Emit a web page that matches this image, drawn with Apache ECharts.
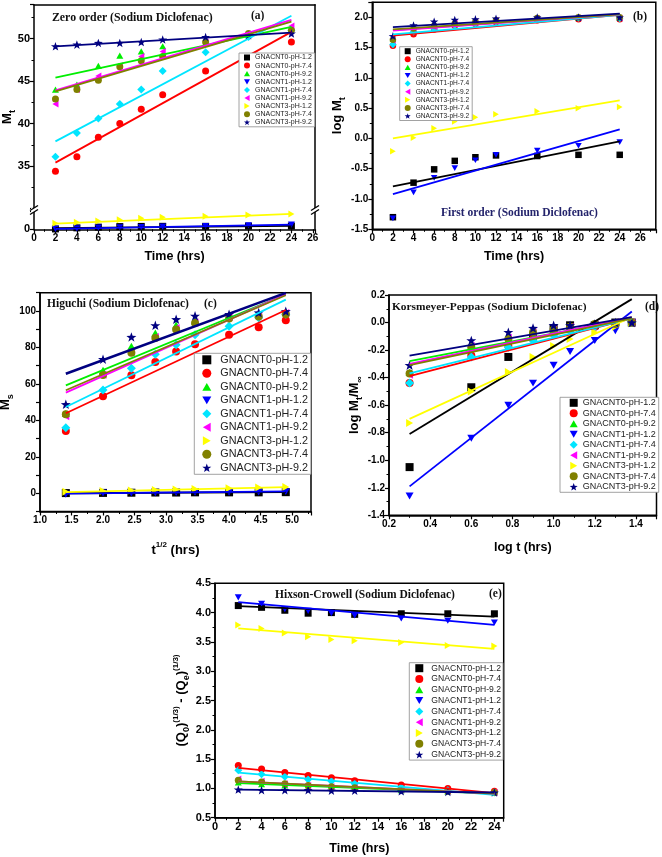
<!DOCTYPE html>
<html><head><meta charset="utf-8">
<script src="https://cdn.jsdelivr.net/npm/echarts@6/dist/echarts.min.js"></script>
<style>html,body{margin:0;padding:0;background:#fff}#c{width:662px;height:857px}</style>
</head><body><div id="c"></div><script>
// ---------------- DATA ----------------
const seriesNames = ['GNACNT0-pH-1.2','GNACNT0-pH-7.4','GNACNT0-pH-9.2','GNACNT1-pH-1.2','GNACNT1-pH-7.4','GNACNT1-pH-9.2','GNACNT3-pH-1.2','GNACNT3-pH-7.4','GNACNT3-pH-9.2'];
const timeHrs = [2,4,6,8,10,12,16,20,24];
const sqrtTime = [1.41,2.00,2.45,2.83,3.16,3.46,4.00,4.47,4.90];
const logTime = [0.30,0.60,0.78,0.90,1.00,1.08,1.20,1.30,1.38];

// (a) Zero order, rows follow seriesNames
const zeroOrder = [
  [0.04,0.16,0.24,0.30,0.32,0.33,0.33,0.35,0.36],
  [34.4,36.1,38.4,40.0,41.7,43.4,46.2,50.3,49.6],
  [44.0,44.6,46.8,48.0,48.5,49.1,49.5,50.5,51.3],
  [0.05,0.10,0.19,0.22,0.26,0.30,0.37,0.44,0.52],
  [36.1,38.9,40.6,42.3,44.0,46.2,48.4,50.2,51.0],
  [42.3,44.0,45.6,46.8,47.9,48.5,49.6,50.5,51.5],
  [0.67,0.78,0.93,1.07,1.22,1.33,1.44,1.60,1.70],
  [42.9,44.0,45.1,46.7,47.4,47.9,49.6,50.6,51.0],
  [49.1,49.3,49.5,49.5,49.6,49.9,50.2,50.4,50.6]
];
const zeroOrderFitX = [2,24];
const zeroOrderFit = [[0.12,0.38],[35.4,50.8],[45.4,51.4],[0.04,0.52],[37.9,52.7],[43.9,52.2],[0.63,1.72],[43.8,52.0],[49.1,50.7]];

// (b) First order
const firstOrder = [
  [-1.30,-0.73,-0.51,-0.37,-0.31,-0.28,-0.29,-0.27,-0.27],
  [1.53,1.72,1.80,1.86,1.89,1.92,1.95,1.97,1.97],
  [1.64,1.80,1.85,1.92,1.94,1.96,1.98,1.99,1.99],
  [-1.32,-0.89,-0.65,-0.49,-0.36,-0.27,-0.20,-0.12,-0.06],
  [1.55,1.76,1.81,1.87,1.90,1.93,1.97,1.99,1.98],
  [1.62,1.79,1.84,1.91,1.93,1.95,1.98,1.99,1.99],
  [-0.21,0.01,0.17,0.28,0.35,0.40,0.45,0.50,0.52],
  [1.63,1.81,1.86,1.90,1.93,1.95,1.99,2.00,2.00],
  [1.69,1.87,1.93,1.96,1.97,1.98,2.00,2.00,2.00]
];
const firstOrderFitX = [2,24];
const firstOrderFit = [[-0.79,-0.05],[1.70,2.04],[1.79,2.05],[-0.92,0.15],[1.72,2.04],[1.78,2.05],[0.00,0.63],[1.80,2.05],[1.84,2.06]];

// (c) Higuchi
const higuchi = [
  [0.1,0.2,0.3,0.4,0.4,0.5,0.5,0.5,0.6],
  [34.2,53.2,64.7,72.0,77.7,81.7,87.0,91.0,94.9],
  [43.7,67.5,80.6,87.9,92.3,94.5,97.1,98.2,99.3],
  [-0.5,0.1,0.2,0.3,0.4,0.5,0.6,0.7,0.9],
  [36.0,56.7,68.6,76.2,81.4,87.0,91.6,96.2,98.2],
  [42.2,65.0,77.5,85.7,90.7,93.6,96.7,98.0,98.9],
  [0.8,1.2,1.5,1.8,2.1,2.4,2.7,3.1,3.4],
  [43.3,64.9,77.1,85.2,89.8,93.4,95.8,96.9,98.2],
  [48.8,73.5,85.7,92.1,95.4,97.3,98.2,99.1,99.8]
];
const higuchiFitX = [1.41,4.90];
const higuchiFit = [[0.0,0.7],[43.9,100.5],[59.2,109.0],[-0.2,1.0],[47.3,106.2],[55.2,109.1],[0.6,3.4],[56.5,108.6],[65.6,109.9]];

// (d) Korsmeyer-Peppas
const korsmeyer = [
  [-1.05,-0.47,-0.25,-0.10,-0.04,-0.02,-0.02,0.00,0.00],
  [-0.44,-0.24,-0.17,-0.12,-0.08,-0.05,-0.03,-0.01,0.00],
  [-0.36,-0.17,-0.10,-0.06,-0.05,-0.03,-0.01,0.00,0.00],
  [-1.26,-0.84,-0.60,-0.44,-0.31,-0.21,-0.13,-0.06,0.00],
  [-0.44,-0.25,-0.18,-0.13,-0.09,-0.06,-0.03,-0.01,0.00],
  [-0.38,-0.17,-0.11,-0.07,-0.05,-0.03,-0.01,0.00,0.00],
  [-0.73,-0.50,-0.36,-0.25,-0.17,-0.12,-0.07,-0.03,0.00],
  [-0.37,-0.18,-0.12,-0.07,-0.05,-0.03,-0.01,-0.01,0.00],
  [-0.31,-0.13,-0.07,-0.04,-0.02,-0.02,-0.01,0.00,0.00]
];
const korsmeyerFitX = [0.30,1.38];
const korsmeyerFit = [[-0.81,0.17],[-0.39,0.03],[-0.28,0.03],[-1.19,0.08],[-0.37,0.03],[-0.30,0.04],[-0.70,0.04],[-0.31,0.03],[-0.24,0.04]];

// (e) Hixson-Crowell
const hixson = [
  [4.12,4.09,4.04,3.99,4.00,3.97,3.98,3.98,3.98],
  [1.39,1.33,1.27,1.22,1.18,1.13,1.06,1.00,0.95],
  [1.10,1.07,1.05,1.02,1.01,1.00,0.97,0.95,0.93],
  [4.26,4.15,4.06,4.03,3.99,3.95,3.90,3.86,3.83],
  [1.31,1.24,1.20,1.15,1.12,1.08,1.02,0.97,0.93],
  [1.16,1.12,1.08,1.05,1.03,1.01,0.98,0.95,0.93],
  [3.79,3.73,3.65,3.59,3.54,3.52,3.49,3.44,3.43],
  [1.14,1.11,1.08,1.05,1.03,1.01,0.98,0.95,0.93],
  [0.98,0.97,0.97,0.97,0.96,0.96,0.95,0.94,0.93]
];
const hixsonFitX = [2,24];
const hixsonFit = [[4.11,3.93],[1.35,0.92],[1.09,0.91],[4.18,3.79],[1.27,0.89],[1.12,0.91],[3.73,3.38],[1.12,0.91],[0.98,0.93]];

// ---------------- STYLE ----------------
const colors = ['#000000','#ff0000','#00ee00','#0000ff','#00e5ff','#ff00ff','#ffff00','#808000','#000080'];
const STAR = 'path://M50 0 L61.8 33.8 L97.6 34.5 L69 56.2 L79.4 90.5 L50 70 L20.6 90.5 L31 56.2 L2.4 34.5 L38.2 33.8 Z';
const TRI_UP = 'path://M5 0 L10 8.7 L0 8.7 Z';
const TRI_DOWN = 'path://M0 0 L10 0 L5 8.7 Z';
const TRI_LEFT = 'path://M8.7 0 L8.7 10 L0 5 Z';
const TRI_RIGHT = 'path://M0 0 L8.7 5 L0 10 Z';
const symbols = ['rect','circle',TRI_UP,TRI_DOWN,'diamond',TRI_LEFT,TRI_RIGHT,'circle',STAR];
const FONT = '"Liberation Sans", Arial, sans-serif';
const SERIF = '"Liberation Serif", "Times New Roman", serif';

function tickFmt(step, dec) {
  return function (v) { const r = v / step; return Math.abs(r - Math.round(r)) < 1e-6 ? v.toFixed(dec) : ''; };
}
function makeAxis(o) {
  return {
    type: 'value', gridIndex: o.grid, min: o.min, max: o.max, interval: o.interval,
    position: o.position,
    axisLine: { show: true, onZero: false, lineStyle: { color: '#000', width: 1.5 } },
    axisTick: { show: o.ticks !== false, inside: false, length: 4, lineStyle: { color: '#000', width: 1.2 } },
    minorTick: { show: o.minor !== false && o.ticks !== false, splitNumber: 2, length: 2.5, lineStyle: { color: '#000', width: 1 } },
    splitLine: { show: false }, minorSplitLine: { show: false },
    axisLabel: { show: o.labels !== false, showMinLabel: true, hideOverlap: false, formatter: o.fmt, color: '#000', fontWeight: 'bold', fontFamily: FONT, fontSize: o.fontSize || 10, margin: 4 },
    name: o.name || '', nameLocation: 'middle', nameGap: o.nameGap || 20,
    nameTextStyle: Object.assign({ color: '#000', fontWeight: 'bold', fontFamily: FONT, fontSize: 12.5 }, o.nameStyle || {})
  };
}
const richName = {
  n: { fontSize: 13, fontWeight: 'bold', fontFamily: FONT, color: '#000', padding: [0, 0, 3, 0], verticalAlign: 'bottom' },
  s: { fontSize: 9, fontWeight: 'bold', fontFamily: FONT, color: '#000', verticalAlign: 'bottom' },
  p: { fontSize: 8, fontWeight: 'bold', fontFamily: FONT, color: '#000', verticalAlign: 'bottom', padding: [0, 0, 11, 0] }
};

const option = { animation: false, backgroundColor: '#fff', textStyle: { fontFamily: FONT }, grid: [], xAxis: [], yAxis: [], series: [], legend: [], graphic: [] };

function addGrid(g, framed) {
  option.grid.push(Object.assign({ outerBoundsMode: 'none', containLabel: false, show: !!framed, borderColor: '#000', borderWidth: framed ? 1.5 : 0, backgroundColor: 'transparent' }, g));
  return option.grid.length - 1;
}
function addAxis(list, o) { list.push(makeAxis(o)); return list.length - 1; }

function addScatter(xi, yi, xs, row, k, size) {
  option.series.push({
    type: 'scatter', name: seriesNames[k], xAxisIndex: xi, yAxisIndex: yi,
    data: xs.map((x, j) => [x, row[j]]),
    symbol: symbols[k], symbolKeepAspect: true,
    symbolSize: k === 8 ? size + 2 : (k === 4 ? size + 1 : size),
    itemStyle: { color: colors[k], opacity: 1 }, z: 2, silent: true
  });
}
function addFit(xi, yi, fx, frow, k, w) {
  option.series.push({
    type: 'line', name: 'fit ' + seriesNames[k], xAxisIndex: xi, yAxisIndex: yi,
    data: fx.map((x, j) => [x, frow[j]]), showSymbol: false, symbol: 'none',
    lineStyle: { color: colors[k], width: w }, z: 3, silent: true
  });
}
function legendBox(left, top, fontSize, icon, gap, pad, textPad) {
  return {
    orient: 'vertical', left: left, top: top,
    data: seriesNames.map((n, k) => ({ name: n, icon: symbols[k] })),
    itemWidth: icon, itemHeight: icon, itemGap: gap,
    padding: pad, borderColor: '#8a8a8a', borderWidth: 0.8, backgroundColor: '#fff', selectedMode: false,
    symbolKeepAspect: true,
    textStyle: { fontFamily: FONT, fontSize: fontSize, color: '#222', padding: [0, 0, 0, textPad] }
  };
}
function title(x, y, text, size, color) {
  return { type: 'text', x: x, y: y, z: 50, style: { text: text, font: 'bold ' + size + 'px ' + SERIF, fill: color || '#111', verticalAlign: 'middle', align: 'left' } };
}

// ---------- Panel (a): broken y axis ----------
const gaU = addGrid({ left: 34, top: 4.7, width: 281, height: 203.8 }, false);
const gaL = addGrid({ left: 34, top: 211.3, width: 281, height: 18 }, false);
const xaU = addAxis(option.xAxis, { grid: gaU, min: 0, max: 26.2, interval: 2, position: 'top', labels: false, ticks: false });
const xaL = addAxis(option.xAxis, { grid: gaL, min: 0, max: 26.2, interval: 2, position: 'bottom', fmt: tickFmt(2, 0), name: 'Time (hrs)', nameGap: 21 });
const yaU = addAxis(option.yAxis, { grid: gaU, min: 30, max: 54, interval: 5, position: 'left', fmt: v => (v > 30 && v % 5 === 0 ? String(v) : ''), fontSize: 11 });
const yaL = addAxis(option.yAxis, { grid: gaL, min: 0, max: 2, interval: 1, position: 'left', fmt: v => (v < 2 ? String(v) : ''), fontSize: 11, minor: false });
const yaUR = addAxis(option.yAxis, { grid: gaU, min: 30, max: 54, position: 'right', labels: false, ticks: false });
const yaLR = addAxis(option.yAxis, { grid: gaL, min: 0, max: 2, position: 'right', labels: false, ticks: false });

// ---------- Panel (b) ----------
const gb = addGrid({ left: 372.3, top: 2.2, width: 283.5, height: 227.1 }, true);
const xb = addAxis(option.xAxis, { grid: gb, min: 0, max: 27.5, interval: 2, position: 'bottom', fmt: tickFmt(2, 0), name: 'Time (hrs)', nameGap: 21 });
const yb = addAxis(option.yAxis, { grid: gb, min: -1.5, max: 2.25, interval: 0.5, position: 'left', fmt: tickFmt(0.5, 1), name: '{n|log M}{s|t}', nameGap: 24, nameStyle: { rich: richName } });

// ---------- Panel (c) ----------
const gc = addGrid({ left: 40, top: 292.7, width: 271, height: 218.8 }, true);
const xc = addAxis(option.xAxis, { grid: gc, min: 1, max: 5.3, interval: 0.5, position: 'bottom', fmt: tickFmt(0.5, 1), name: '{n|t}{p|1/2}{n| (hrs)}', nameGap: 29, nameStyle: { rich: richName } });
const yc = addAxis(option.yAxis, { grid: gc, min: -10, max: 110, interval: 10, position: 'left', fmt: tickFmt(20, 0), minor: false, name: '{n|M}{s|s}', nameGap: 22, nameStyle: { rich: richName } });

// ---------- Panel (d) ----------
const gd = addGrid({ left: 389, top: 295, width: 267.5, height: 220.3 }, true);
const xd = addAxis(option.xAxis, { grid: gd, min: 0.2, max: 1.5, interval: 0.2, position: 'bottom', fmt: tickFmt(0.2, 1), name: 'log t (hrs)', nameGap: 26 });
const yd = addAxis(option.yAxis, { grid: gd, min: -1.4, max: 0.2, interval: 0.2, position: 'left', fmt: tickFmt(0.2, 1), name: '{n|log M}{s|t}{n|/M}{s|∞}', nameGap: 24, nameStyle: { rich: richName } });

// ---------- Panel (e) ----------
const ge = addGrid({ left: 215, top: 583.3, width: 288.7, height: 234.4 }, true);
const xe = addAxis(option.xAxis, { grid: ge, min: 0, max: 24.8, interval: 2, position: 'bottom', fmt: tickFmt(2, 0), fontSize: 11, name: 'Time (hrs)', nameGap: 24 });
const ye = addAxis(option.yAxis, { grid: ge, min: 0.5, max: 4.5, interval: 0.5, position: 'left', fmt: tickFmt(0.5, 1), fontSize: 11, name: '{n|(Q}{s|0}{n|)}{p|(1/3)}{n| - (Q}{s|e}{n|)}{p|(1/3)}', nameGap: 24, nameStyle: { rich: richName } });

// ---------- Series ----------
const panelsDef = [
  { rows: zeroOrder, xs: timeHrs, fx: zeroOrderFitX, fit: zeroOrderFit, size: 7, lw: 1.8, axes: k => (Math.max.apply(null, zeroOrder[k]) < 5 ? [xaL, yaL] : [xaU, yaU]) },
  { rows: firstOrder, xs: timeHrs, fx: firstOrderFitX, fit: firstOrderFit, size: 6.5, lw: 1.8, axes: () => [xb, yb] },
  { rows: higuchi, xs: sqrtTime, fx: higuchiFitX, fit: higuchiFit, size: 8, lw: 1.8, axes: () => [xc, yc] },
  { rows: korsmeyer, xs: logTime, fx: korsmeyerFitX, fit: korsmeyerFit, size: 8, lw: 1.8, axes: () => [xd, yd] },
  { rows: hixson, xs: timeHrs, fx: hixsonFitX, fit: hixsonFit, size: 7, lw: 1.8, axes: () => [xe, ye] }
];
panelsDef.forEach(p => {
  for (let k = 0; k < seriesNames.length; k++) { const a = p.axes(k); addScatter(a[0], a[1], p.xs, p.rows[k], k, p.size); }
  for (let k = 0; k < seriesNames.length; k++) { const a = p.axes(k); addFit(a[0], a[1], p.fx, p.fit[k], k, (p === panelsDef[2] && k === 8) ? 2.6 : p.lw); }
});

// ---------- Legends ----------
option.legend.push(legendBox(239, 53, 7, 6, 1.1, [1, 3, 1, 5], 0));
option.legend.push(legendBox(399.7, 46.7, 6.6, 6, 1.1, [1, 3, 1, 5], 0));
option.legend.push(legendBox(194.3, 353.3, 10.8, 9, 2.5, [1, 3, 1, 8], 4));
option.legend.push(legendBox(560, 397.3, 9, 8, 1.5, [1, 3, 1, 9.7], 0));
option.legend.push(legendBox(409.3, 662.7, 8.6, 8, 1.8, [1, 2, 1, 6], 3));

// ---------- Graphic texts ----------
function breakMarks(x, y) {
  return [
    { type: 'rect', z: 60, shape: { x: x - 3, y: y - 2, width: 6, height: 4 }, style: { fill: '#fff' } },
    { type: 'line', z: 61, shape: { x1: x - 4, y1: y + 0.5, x2: x + 4, y2: y - 4.5 }, style: { stroke: '#000', lineWidth: 1.4 } },
    { type: 'line', z: 61, shape: { x1: x - 4, y1: y + 4.5, x2: x + 4, y2: y - 0.5 }, style: { stroke: '#000', lineWidth: 1.4 } }
  ];
}
option.graphic = [].concat(
  breakMarks(34, 210), breakMarks(315, 210),
  [
    { type: 'text', x: 9, y: 117, rotation: Math.PI / 2, z: 50, style: { text: '{n|M}{s|t}', rich: richName, align: 'center', verticalAlign: 'middle' } },
    title(52, 18, 'Zero order (Sodium Diclofenac)', 11.8),
    title(251, 16, '(a)', 11.5),
    title(633, 17, '(b)', 11.5),
    title(441, 213, 'First order (Sodium Diclofenac)', 11.5, '#23236b'),
    title(47, 304, 'Higuchi (Sodium Diclofenac)', 11.5),
    title(204, 304, '(c)', 11.5),
    title(392, 307, 'Korsmeyer-Peppas (Sodium Diclofenac)', 11.4),
    title(645, 307, '(d)', 11.5),
    title(275, 595, 'Hixson-Crowell (Sodium Diclofenac)', 11.5),
    title(489, 594, '(e)', 11.5)
  ]
);

const chart = echarts.init(document.getElementById('c'), null, { renderer: 'canvas', width: 662, height: 857 });
chart.setOption(option);
</script></body></html>
